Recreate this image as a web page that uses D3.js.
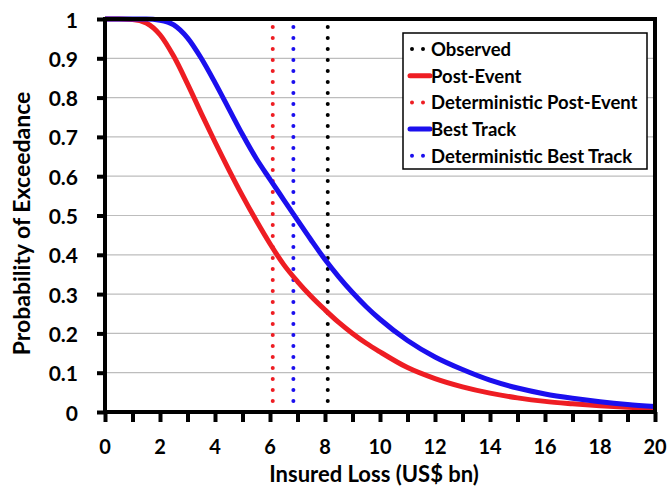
<html>
<head>
<style>
  body { margin: 0; background: #fff; }
  text { font-family: Lato, "Open Sans", sans-serif; font-weight: bold; }
</style>
</head>
<body>
<script src="https://cdn.jsdelivr.net/npm/d3@7"></script>

<div id="container1"></div>

<script>

// values
const lossX = [0, 0.5, 1, 1.5, 2, 2.5, 3, 3.5, 4, 4.5, 5, 5.5, 6, 6.5, 7, 7.5, 8, 8.5, 9, 9.5, 10,
               11, 12, 13, 14, 15, 16, 17, 18, 19, 20];
const postEvent = [1, 1, 0.999, 0.99, 0.96, 0.905, 0.835, 0.76, 0.687, 0.617, 0.55, 0.487, 0.428, 0.375, 0.332, 0.294, 0.26, 0.228, 0.2, 0.175, 0.153,
                   0.113, 0.085, 0.064, 0.048, 0.036, 0.027, 0.021, 0.016, 0.012, 0.009];
const bestTrack = [1, 1, 1, 1, 0.997, 0.985, 0.952, 0.9, 0.838, 0.772, 0.706, 0.645, 0.592, 0.54, 0.488, 0.437, 0.388, 0.344, 0.304, 0.268, 0.236,
                   0.182, 0.14, 0.108, 0.081, 0.061, 0.046, 0.035, 0.026, 0.019, 0.014];
const observed = 8.1;
const detPostEvent = 6.1;
const detBestTrack = 6.85;

const xTicks = d3.range(0, 21, 1);
const xLabels = d3.range(0, 21, 2);
const yTicks = d3.range(0, 1.01, 0.1);

const red = "#ee1d23", blue = "#1b0fee";

const margin = {top: 19, right: 14, bottom: 75, left: 105},
    width = 669 - margin.left - margin.right,
    height = 487 - margin.top - margin.bottom;

const svg0 = d3.select("#container1")
  .append("svg")
    .attr("width", 669)
    .attr("height", 487);
const svg = svg0.append("g")
    .attr("transform", `translate(${margin.left},${margin.top})`);

const x = d3.scaleLinear().domain([0, 20]).range([0, width]);
const y = d3.scaleLinear().domain([0, 1]).range([height, 0]);

// grid
svg.append("g")
  .selectAll("line")
  .data(yTicks.slice(1, -1))
  .join("line")
    .attr("x1", 0).attr("x2", width)
    .attr("y1", d => y(d)).attr("y2", d => y(d))
    .style("stroke", "#bdbdbd").style("stroke-width", 1.2);

// vertical dotted lines
const vlines = [[detPostEvent, red], [detBestTrack, blue], [observed, "#000"]];
svg.append("g")
  .selectAll("line")
  .data(vlines)
  .join("line")
    .attr("x1", d => x(d[0])).attr("x2", d => x(d[0]))
    .attr("y1", height).attr("y2", 0)
    .style("stroke", d => d[1])
    .style("stroke-width", 4)
    .style("stroke-linecap", "round")
    .style("stroke-dasharray", "0 11");

// curves
const line = d3.line()
    .x(d => x(d[0]))
    .y(d => y(d[1]))
    .curve(d3.curveMonotoneX);

svg.append("path")
    .datum(lossX.map((v, i) => [v, postEvent[i]]))
    .attr("d", line)
    .style("fill", "none").style("stroke", red).style("stroke-width", 5);
svg.append("path")
    .datum(lossX.map((v, i) => [v, bestTrack[i]]))
    .attr("d", line)
    .style("fill", "none").style("stroke", blue).style("stroke-width", 5);

// frame
svg.append("rect")
    .attr("x", 0).attr("y", 0)
    .attr("width", width).attr("height", height)
    .style("fill", "none").style("stroke", "#000").style("stroke-width", 4);

// axes
const xAxis = svg.append("g")
    .attr("transform", `translate(0, ${height})`)
    .call(d3.axisBottom(x).tickValues(xTicks).tickSize(10).tickFormat(""));
const yAxis = svg.append("g")
    .call(d3.axisLeft(y).tickValues(yTicks).tickSize(8).tickFormat(""));
[xAxis, yAxis].forEach(a => {
  a.select(".domain").remove();
  a.selectAll(".tick line").style("stroke", "#000").style("stroke-width", 4);
});

svg.append("g")
  .selectAll("text")
  .data(xLabels)
  .join("text")
    .attr("x", d => x(d)).attr("y", height + 42)
    .attr("text-anchor", "middle")
    .style("font-size", "20px")
    .text(d => d);

svg.append("g")
  .selectAll("text")
  .data(yTicks)
  .join("text")
    .attr("x", -27).attr("y", d => y(d))
    .attr("text-anchor", "end")
    .attr("dominant-baseline", "central")
    .style("font-size", "21px")
    .text(d => d3.format("~g")(+d.toFixed(1)));

svg.append("text")
    .attr("x", width / 2 - 6).attr("y", height + 70)
    .attr("text-anchor", "middle")
    .style("font-size", "22px")
    .text("Insured Loss (US$ bn)");

svg.append("text")
    .attr("transform", `translate(-75, ${height / 2 + 8}) rotate(-90)`)
    .attr("text-anchor", "middle")
    .style("font-size", "23px")
    .text("Probability of Exceedance");

// legend
const legendItems = [
  {name: "Observed", color: "#000", dotted: true},
  {name: "Post-Event", color: red, dotted: false},
  {name: "Deterministic Post-Event", color: red, dotted: true},
  {name: "Best Track", color: blue, dotted: false},
  {name: "Deterministic Best Track", color: blue, dotted: true}
];
const lg = svg0.append("g").attr("transform", "translate(403, 33)");
lg.append("rect")
    .attr("width", 244).attr("height", 136)
    .style("fill", "#fff").style("stroke", "#000").style("stroke-width", 1.5);
legendItems.forEach((d, i) => {
  const cy = 16 + i * 26.7;
  lg.append("line")
      .attr("x1", d.dotted ? 9 : 7).attr("x2", d.dotted ? 21 : 27)
      .attr("y1", cy).attr("y2", cy)
      .style("stroke", d.color)
      .style("stroke-width", d.dotted ? 4 : 5)
      .style("stroke-linecap", "round")
      .style("stroke-dasharray", d.dotted ? "0 11" : null);
  lg.append("text")
      .attr("x", 28).attr("y", cy)
      .attr("dominant-baseline", "central")
      .style("font-size", "18.5px")
      .text(d.name);
});

</script>
</body>
</html>
